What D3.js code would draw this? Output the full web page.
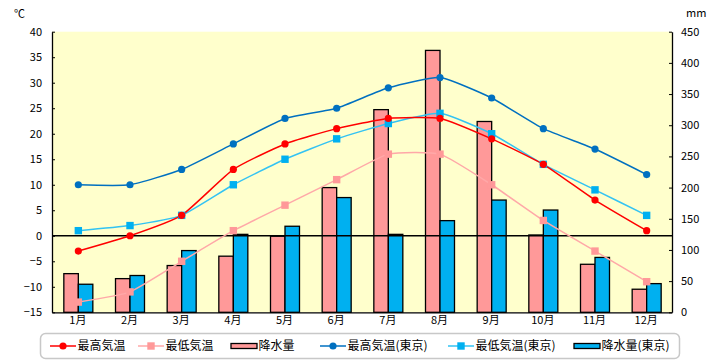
<!DOCTYPE html>
<html><head><meta charset="utf-8">
<script src="https://cdn.jsdelivr.net/npm/d3@7"></script>
<style>body{margin:0;background:#fff}text{font-family:"Noto Sans CJK JP","DejaVu Sans",sans-serif;}</style>
</head><body><svg id="c" width="720" height="360"></svg>
<script>
const months = ["1月","2月","3月","4月","5月","6月","7月","8月","9月","10月","11月","12月"];
const maxTemp = [-3, 0, 4, 13, 18, 21, 23, 23, 19, 14, 7, 1];
const minTemp = [-13, -11, -5, 1, 6, 11, 16, 16, 10, 3, -3, -9];
const precip = [62, 54, 75, 90, 122, 200, 325, 420, 306, 124, 77, 37];
const maxTempTokyo = [10, 10, 13, 18, 23, 25, 29, 31, 27, 21, 17, 12];
const minTempTokyo = [1, 2, 4, 10, 15, 19, 22, 24, 20, 14, 9, 4];
const precipTokyo = [45, 59, 99, 125, 138, 184, 125, 147, 180, 164, 88, 46];
const tempTicks = [-15,-10,-5,0,5,10,15,20,25,30,35,40];
const mmTicks = [0,50,100,150,200,250,300,350,400,450];
const legendLabels = ["最高気温","最低気温","降水量","最高気温(東京)","最低気温(東京)","降水量(東京)"];

const svg = d3.select("#c");
const L = 52, R = 672, T = 31.7, B = 312.3;
const x = d3.scaleBand().domain(months).range([L, R]).paddingInner(0).paddingOuter(0);
const yT = d3.scaleLinear().domain([-15, 40]).range([B, T]);
const yP = d3.scaleLinear().domain([0, 450]).range([B, T]);
const bw = 14.5;

svg.append("rect").attr("x", L).attr("y", T).attr("width", R - L).attr("height", B - T).attr("fill", "#FFFFCC");

// bars
const cx = m => x(m) + x.bandwidth() / 2 + 0.5;
svg.append("g").selectAll("rect").data(months).join("rect")
  .attr("x", m => cx(m) - bw).attr("width", bw)
  .attr("y", (m, i) => yP(precip[i])).attr("height", (m, i) => B - yP(precip[i]))
  .attr("fill", "#FF9999").attr("stroke", "#000").attr("stroke-width", 1.3);
svg.append("g").selectAll("rect").data(months).join("rect")
  .attr("x", m => cx(m)).attr("width", bw)
  .attr("y", (m, i) => yP(precipTokyo[i])).attr("height", (m, i) => B - yP(precipTokyo[i]))
  .attr("fill", "#00B0F0").attr("stroke", "#000").attr("stroke-width", 1.3);

// zero line
svg.append("line").attr("x1", L).attr("x2", R).attr("y1", yT(0)).attr("y2", yT(0)).attr("stroke", "#000").attr("stroke-width", 1.3);

// axes
const gl = svg.append("g").attr("transform", `translate(${L},0)`)
  .call(d3.axisLeft(yT).tickValues(tempTicks).tickSizeInner(-3).tickSizeOuter(0).tickPadding(10));
const gr = svg.append("g").attr("transform", `translate(${R},0)`)
  .call(d3.axisRight(yP).tickValues(mmTicks).tickSizeInner(-3).tickSizeOuter(0).tickPadding(9));
const gb = svg.append("g").attr("transform", `translate(0,${B})`)
  .call(d3.axisBottom(x).tickSize(0).tickPadding(4));
[gl, gr, gb].forEach(g => {
  g.select(".domain").attr("stroke", "#000").attr("stroke-width", 1.3);
  g.selectAll(".tick line").attr("stroke", "#000");
  g.selectAll("text").attr("font-size", 11).attr("fill", "#000")
    .attr("font-family", "'Noto Sans CJK JP',sans-serif");
});
svg.append("text").attr("x", 14).attr("y", 18).attr("font-size", 11).text("℃");
svg.append("text").attr("x", 686).attr("y", 17).attr("font-size", 11).text("mm");

// lines
const curve = d3.curveCardinal.tension(0.5);
const series = [
  {v: maxTempTokyo, line: "#0070C0", fill: "#0070C0", shape: "circle"},
  {v: minTempTokyo, line: "#33C3F3", fill: "#00B0F0", shape: "square"},
  {v: maxTemp, line: "#FF0000", fill: "#FF0000", shape: "circle"},
  {v: minTemp, line: "#FFA8A8", fill: "#FF9999", shape: "square"}
];
series.forEach(s => {
  const ln = d3.line().x((d, i) => cx(months[i])).y(d => yT(d)).curve(curve);
  svg.append("path").attr("d", ln(s.v)).attr("fill", "none").attr("stroke", s.line).attr("stroke-width", 1.5);
});
series.forEach(s => {
  const g = svg.append("g");
  if (s.shape === "circle") {
    g.selectAll("circle").data(s.v).join("circle")
      .attr("cx", (d, i) => cx(months[i])).attr("cy", d => yT(d)).attr("r", 3.6).attr("fill", s.fill);
  } else {
    g.selectAll("rect").data(s.v).join("rect")
      .attr("x", (d, i) => cx(months[i]) - 3.7).attr("y", d => yT(d) - 3.7)
      .attr("width", 7.4).attr("height", 7.4).attr("fill", s.fill);
  }
});

// legend
svg.append("rect").attr("x", 40.5).attr("y", 333.5).attr("width", 639).attr("height", 25).attr("rx", 5)
  .attr("fill", "#fff").attr("stroke", "#C8C8C8").attr("stroke-width", 1.5);
const items = [
  {x: 50, type: "line", line: "#FF0000", fill: "#FF0000", shape: "circle"},
  {x: 138, type: "line", line: "#FFA8A8", fill: "#FF9999", shape: "square"},
  {x: 231, type: "bar", fill: "#FF9999"},
  {x: 320, type: "line", line: "#0070C0", fill: "#0070C0", shape: "circle"},
  {x: 448, type: "line", line: "#33C3F3", fill: "#00B0F0", shape: "square"},
  {x: 574, type: "bar", fill: "#00B0F0"}
];
const ly = 346;
items.forEach((it, i) => {
  const g = svg.append("g");
  if (it.type === "line") {
    g.append("line").attr("x1", it.x).attr("x2", it.x + 26).attr("y1", ly).attr("y2", ly).attr("stroke", it.line).attr("stroke-width", 1.5);
    if (it.shape === "circle") g.append("circle").attr("cx", it.x + 13).attr("cy", ly).attr("r", 3.6).attr("fill", it.fill);
    else g.append("rect").attr("x", it.x + 13 - 3.7).attr("y", ly - 3.7).attr("width", 7.4).attr("height", 7.4).attr("fill", it.fill);
  } else {
    g.append("rect").attr("x", it.x).attr("y", ly - 2.5).attr("width", 26).attr("height", 5)
      .attr("fill", it.fill).attr("stroke", "#000").attr("stroke-width", 1.3);
  }
  g.append("text").attr("x", it.x + 27.5).attr("y", ly).attr("dy", "0.36em").attr("font-size", 12).text(legendLabels[i]);
});
</script></body></html>
